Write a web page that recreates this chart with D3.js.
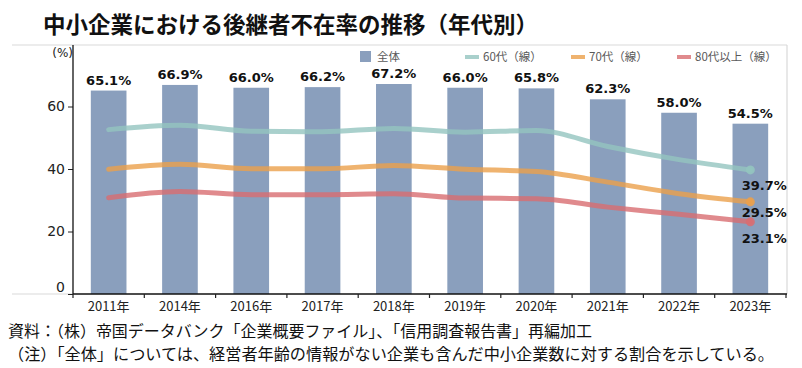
<!DOCTYPE html>
<html><head><meta charset="utf-8">
<script src="https://cdn.jsdelivr.net/npm/d3@7"></script>
<style>
html,body{margin:0;padding:0;background:#fff;}
svg{display:block;}
</style></head>
<body>
<svg id="chart" width="802" height="368"></svg>
<script>
const years = ["2011年","2014年","2016年","2017年","2018年","2019年","2020年","2021年","2022年","2023年"];
const totalValues = [65.1, 66.9, 66.0, 66.2, 67.2, 66.0, 65.8, 62.3, 58.0, 54.5];
const age60s = [52.6, 54.0, 52.1, 51.9, 53.0, 51.8, 52.3, 47.2, 43.0, 39.7];
const age70s = [39.9, 41.5, 40.1, 40.1, 41.1, 39.9, 39.2, 35.8, 32.1, 29.5];
const age80plus = [30.8, 32.8, 31.8, 31.8, 32.1, 30.7, 30.5, 27.8, 25.5, 23.1];
const yTicks = [0, 20, 40, 60];
const legendLabels = ["全体", "60代（線）", "70代（線）", "80代以上（線）"];
const titleText = "中小企業における後継者不在率の推移（年代別）";
const noteLines = ["資料：（株）帝国データバンク「企業概要ファイル」、「信用調査報告書」再編加工",
                   "（注）「全体」については、経営者年齢の情報がない企業も含んだ中小企業数に対する割合を示している。"];

(function () {
const svg = d3.select("#chart");
const CJK = "'Noto Sans CJK JP','Noto Sans',sans-serif";
const LAT = "'DejaVu Sans',Verdana,sans-serif";

const pLeft = 73, pRight = 786, pTop = 44, pBottom = 294;
const x = d3.scaleBand().domain(years).range([pLeft, pRight]).paddingInner(0.5).paddingOuter(0.25);
const y = d3.scaleLinear().domain([0, 80]).range([pBottom, pTop]);

// Title
svg.append("text").attr("x", 43).attr("y", 33)
  .attr("font-family", CJK).attr("font-weight", "bold").attr("font-size", 22.5)
  .attr("fill", "#111").text(titleText);

// light frame
const frame = svg.append("g").attr("stroke", "#d9d9d9").attr("stroke-width", 1.2).attr("fill", "none");
frame.append("line").attr("x1", 12).attr("x2", 787).attr("y1", 45).attr("y2", 45);
frame.append("line").attr("x1", 787).attr("x2", 787).attr("y1", 45).attr("y2", pBottom);
frame.append("line").attr("x1", 12).attr("x2", pLeft).attr("y1", pBottom).attr("y2", pBottom);

// Bars
svg.append("g").selectAll("rect").data(totalValues).join("rect")
  .attr("x", (d, i) => x(years[i]))
  .attr("width", x.bandwidth())
  .attr("y", d => y(d))
  .attr("height", d => y(0) - y(d))
  .attr("fill", "#8a9fbd");

// Bar labels
svg.append("g").selectAll("text").data(totalValues).join("text")
  .attr("x", (d, i) => x(years[i]) + x.bandwidth() / 2)
  .attr("y", d => y(d) - 6)
  .attr("text-anchor", "middle")
  .attr("font-family", LAT).attr("font-weight", "bold").attr("font-size", 13)
  .attr("fill", "#111")
  .text(d => d.toFixed(1) + "%");

// Lines
const series = [
  {vals: age60s, color: "#93c4bf", labelDy: 20},
  {vals: age70s, color: "#eba04b", labelDy: 15.5},
  {vals: age80plus, color: "#d86d71", labelDy: 21}
];
const cx = i => x(years[i]) + x.bandwidth() / 2;
const line = d3.line().x((d, i) => cx(i)).y(d => y(d)).curve(d3.curveMonotoneX);
series.forEach(s => {
  svg.append("path").datum(s.vals)
    .attr("d", line)
    .attr("fill", "none")
    .attr("stroke", s.color)
    .attr("stroke-opacity", 0.8)
    .attr("stroke-width", 5)
    .attr("stroke-linecap", "round");
  const last = s.vals.length - 1;
  svg.append("circle")
    .attr("cx", cx(last)).attr("cy", y(s.vals[last])).attr("r", 4.5)
    .attr("fill", s.color).attr("fill-opacity", 0.9);
});
series.forEach(s => {
  const last = s.vals.length - 1;
  svg.append("text")
    .attr("x", cx(last) + 14).attr("y", y(s.vals[last]) + s.labelDy)
    .attr("text-anchor", "middle")
    .attr("font-family", LAT).attr("font-weight", "bold").attr("font-size", 13)
    .attr("fill", "#111")
    .text(s.vals[last].toFixed(1) + "%");
});

// Y axis
const yAxis = svg.append("g").attr("transform", `translate(${pLeft},0)`)
  .call(d3.axisLeft(y).tickValues(yTicks).tickSize(5).tickPadding(3));
yAxis.select(".domain").remove();
yAxis.selectAll(".tick line").attr("stroke", "#222");
yAxis.selectAll(".tick text").attr("font-family", LAT).attr("font-size", 14).attr("fill", "#222")
  .attr("dy", d => d === 0 ? "-0.2em" : "0.32em");
svg.append("line").attr("x1", pLeft).attr("x2", pLeft).attr("y1", 45).attr("y2", pBottom)
  .attr("stroke", "#111").attr("stroke-width", 1.3);
svg.append("text").attr("x", 73).attr("y", 57).attr("text-anchor", "end")
  .attr("font-family", LAT).attr("font-size", 12).attr("fill", "#222").text("(%)");

// X axis
svg.append("line").attr("x1", pLeft).attr("x2", pRight + 1).attr("y1", pBottom).attr("y2", pBottom)
  .attr("stroke", "#111").attr("stroke-width", 1.3);
const boundaries = years.map(d => x(d) - x.step() * x.paddingInner() / 2).concat([pRight]);
svg.append("g").selectAll("line").data(boundaries).join("line")
  .attr("x1", d => d).attr("x2", d => d).attr("y1", pBottom).attr("y2", pBottom + 4)
  .attr("stroke", "#222").attr("stroke-width", 1.2);
svg.append("g").selectAll("text").data(years).join("text")
  .attr("x", d => x(d) + x.bandwidth() / 2)
  .attr("y", 311)
  .attr("text-anchor", "middle")
  .attr("font-family", CJK).attr("font-size", 13).attr("fill", "#222")
  .text(d => d);

// Legend
const lg = svg.append("g").attr("font-family", CJK).attr("font-size", 11.5).attr("fill", "#595959");
lg.append("rect").attr("x", 360).attr("y", 51).attr("width", 11).attr("height", 11).attr("fill", "#8a9fbd");
lg.append("text").attr("x", 377).attr("y", 61).text(legendLabels[0]);
const legX = [465, 571, 677];
series.forEach((s, i) => {
  lg.append("line").attr("x1", legX[i]).attr("x2", legX[i] + 14).attr("y1", 57).attr("y2", 57)
    .attr("stroke", s.color).attr("stroke-opacity", 0.8).attr("stroke-width", 4);
  lg.append("text").attr("x", legX[i] + 18).attr("y", 61).text(legendLabels[i + 1]);
});

// Notes
svg.append("text").attr("x", 8).attr("y", 337)
  .attr("font-family", CJK).attr("font-size", 16).attr("fill", "#111")
  .attr("textLength", 584).attr("lengthAdjust", "spacingAndGlyphs")
  .text(noteLines[0]);
svg.append("text").attr("x", 8).attr("y", 360)
  .attr("font-family", CJK).attr("font-size", 16).attr("fill", "#111")
  .attr("textLength", 766).attr("lengthAdjust", "spacingAndGlyphs")
  .text(noteLines[1]);
})();
</script>
</body></html>
